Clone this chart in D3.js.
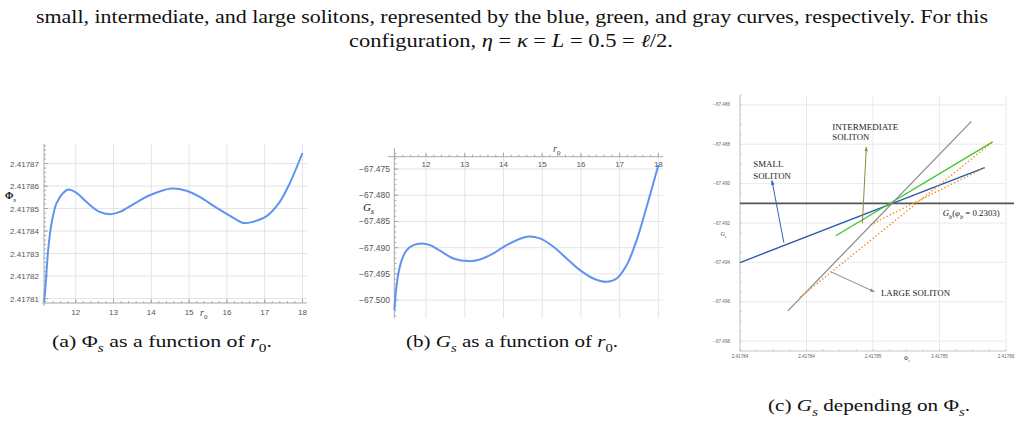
<!DOCTYPE html>
<html><head><meta charset="utf-8">
<script src="https://cdn.jsdelivr.net/npm/d3@7"></script>
<style>body{margin:0;background:#fff}svg{display:block}</style>
</head><body>
<svg id="c" width="1021" height="421"></svg>
<script>
// ---------- DATA ----------
// (a) Phi_s vs r0
const r0A  = [11.16, 11.2, 11.27, 11.36, 11.49, 11.66, 11.8, 12.02, 12.28, 12.63, 12.9, 13.17, 13.52, 13.96, 14.53, 14.93, 15.28, 15.72, 16.16, 16.43, 16.69, 17.05, 17.4, 17.66, 18.0];
const phiA = [2.4178085, 2.4178152, 2.4178316, 2.4178434, 2.4178523, 2.4178568, 2.4178585, 2.417857, 2.417853, 2.4178485, 2.4178475, 2.4178485, 2.4178519, 2.4178559, 2.4178589, 2.4178579, 2.4178552, 2.4178504, 2.417846, 2.4178436, 2.4178441, 2.4178466, 2.417853, 2.4178611, 2.4178747];
// (b) G_s vs r0
const r0B = [11.182, 11.225, 11.286, 11.372, 11.5, 11.673, 11.888, 12.103, 12.36, 12.706, 13.093, 13.395, 13.739, 14.083, 14.6, 14.944, 15.288, 15.633, 15.977, 16.321, 16.666, 16.924, 17.182, 17.44, 17.699, 18.0];
const gB  = [-67.50191, -67.49809, -67.49491, -67.49237, -67.49046, -67.4895, -67.48919, -67.4895, -67.49058, -67.49205, -67.49256, -67.49224, -67.49109, -67.4895, -67.48791, -67.48823, -67.48982, -67.49205, -67.49427, -67.49587, -67.4965, -67.49587, -67.49332, -67.48855, -67.48219, -67.47424];
// tick labels
const ticksR0   = [12, 13, 14, 15, 16, 17, 18];
const ticksPhiA = [2.41781, 2.41782, 2.41783, 2.41784, 2.41785, 2.41786, 2.41787];
const labelsPhiA = ["2.41781", "2.41782", "2.41783", "2.41784", "2.41785", "2.41786", "2.41787"];
const ticksGB   = [-67.5, -67.495, -67.49, -67.485, -67.48, -67.475];
const labelsGB  = ["\u221267.500", "\u221267.495", "\u221267.490", "\u221267.485", "\u221267.480", "\u221267.475"];
// (c) G_s vs Phi_s
const ticksPhiC  = [2.41784, 2.417845, 2.41785, 2.417855, 2.41786];
const labelsPhiC = ["2.41784", "2.41784", "2.41785", "2.41785", "2.41786"];
const ticksGC    = [-67.486, -67.488, -67.49, -67.492, -67.494, -67.496, -67.498];
const labelsGC   = ["\u221267.486", "\u221267.488", "\u221267.490", "\u221267.492", "\u221267.494", "\u221267.496", "\u221267.498"];
const branchNames = ["small", "intermediate", "large"];
const branchPhi0  = [2.41784, 2.4178472, 2.4178436];
const branchG0    = [-67.49401, -67.49265, -67.49646];
const branchPhi1  = [2.4178584, 2.417859, 2.4178574];
const branchG1    = [-67.48919, -67.48788, -67.48684];
const branchColors = ["#2a56ad", "#3cc82c", "#8e8e8e"];
const orangePhi0 = [2.4178445, 2.4178498];
const orangeG0   = [-67.49578, -67.49209];
const orangePhi1 = [2.417859, 2.4178584];
const orangeG1   = [-67.48788, -67.48919];
const Gb = -67.491;
// annotations (data coordinates)
const arrowPhi0 = [2.4178433, 2.4178492, 2.4178468];
const arrowG0   = [-67.4930, -67.49201, -67.49447];
const arrowPhi1 = [2.4178424, 2.4178495, 2.4178501];
const arrowG1   = [-67.48984, -67.48814, -67.49549];
const arrowColors = ["#3560bb", "#8d8c3c", "#8a8a8a"];

// ---------- DRAW ----------
const svg = d3.select("#c");
const serif = "'Liberation Serif','DejaVu Serif',serif";
const sans = "'Liberation Sans','DejaVu Sans',sans-serif";
const gridC = "#e4e4e4", axC = "#a8a8a8", lblC = "#555";

// rich text: parts = [[text, {italic, sub, bold}]...]
function rich(g, x, y, parts, size, opt = {}) {
  const t = g.append("text").attr("x", x).attr("y", y)
    .attr("font-family", serif).attr("font-size", size).attr("fill", opt.fill || "#111");
  if (opt.anchor) t.attr("text-anchor", opt.anchor);
  let shifted = 0;
  parts.forEach(p => {
    const [s, o] = typeof p === "string" ? [p, {}] : p;
    const ts = t.append("tspan").text(s);
    if (o.italic) ts.attr("font-style", "italic");
    if (o.bold) ts.attr("font-weight", "bold");
    const want = o.sub ? size * 0.28 : 0;
    if (want !== shifted) { ts.attr("dy", want - shifted); shifted = want; }
    if (o.sub) ts.attr("font-size", size * 0.7);
  });
  if (opt.len) t.attr("textLength", opt.len).attr("lengthAdjust", "spacingAndGlyphs");
  return t;
}

// ---- captions ----
const cap = svg.append("g");
rich(cap, 36, 23, ["small, intermediate, and large solitons, represented by the blue, green, and gray curves, respectively. For this"], 18, {len: 952});
rich(cap, 349, 47, ["configuration, ", ["\u03b7", {italic: 1}], " = ", ["\u03ba", {italic: 1}], " = ", ["L", {italic: 1}], " = 0.5 = ", ["\u2113", {italic: 1}], "/2."], 18, {len: 324});
rich(cap, 52, 347, ["(a) \u03a6", ["s", {italic: 1, sub: 1}], " as a function of ", ["r", {italic: 1}], ["0", {sub: 1}], "."], 17, {len: 220});
rich(cap, 406, 347, ["(b) ", ["G", {italic: 1}], ["s", {italic: 1, sub: 1}], " as a function of ", ["r", {italic: 1}], ["0", {sub: 1}], "."], 17, {len: 212});
rich(cap, 768, 411, ["(c) ", ["G", {italic: 1}], ["s", {italic: 1, sub: 1}], " depending on \u03a6", ["s", {italic: 1, sub: 1}], "."], 17, {len: 202});

function minorTicks(lo, hi, step) {
  const out = []; const n = Math.round((hi - lo) / step);
  for (let i = 0; i <= n; i++) out.push(lo + i * step);
  return out;
}

// ---- panel (a) ----
{
  const g = svg.append("g");
  const x = d3.scaleLinear([11.16, 18.12], [44, 307]);
  const y = d3.scaleLinear([2.417808, 2.4178787], [303, 144]);
  g.selectAll(".vg").data(ticksR0).join("line").attr("x1", d => x(d)).attr("x2", d => x(d))
    .attr("y1", 144).attr("y2", 303).attr("stroke", gridC);
  g.selectAll(".hg").data(ticksPhiA).join("line").attr("class", "hg").attr("y1", d => y(d)).attr("y2", d => y(d))
    .attr("x1", 44).attr("x2", 307).attr("stroke", gridC);
  g.append("line").attr("x1", 42).attr("x2", 307).attr("y1", 303).attr("y2", 303).attr("stroke", axC);
  g.append("line").attr("x1", 44).attr("x2", 44).attr("y1", 144).attr("y2", 306).attr("stroke", axC);
  g.selectAll(".mx").data(minorTicks(11.2, 18.0, 0.2)).join("line").attr("class", "mx")
    .attr("x1", d => x(d)).attr("x2", d => x(d)).attr("y1", 303).attr("y2", 301).attr("stroke", axC);
  g.selectAll(".Mx").data(ticksR0).join("line").attr("class", "Mx")
    .attr("x1", d => x(d)).attr("x2", d => x(d)).attr("y1", 303).attr("y2", 299).attr("stroke", axC);
  g.selectAll(".my").data(minorTicks(2.41781, 2.417878, 0.000002)).join("line").attr("class", "my")
    .attr("y1", d => y(d)).attr("y2", d => y(d)).attr("x1", 44).attr("x2", 46).attr("stroke", axC);
  g.selectAll(".My").data(ticksPhiA).join("line").attr("class", "My")
    .attr("y1", d => y(d)).attr("y2", d => y(d)).attr("x1", 44).attr("x2", 48).attr("stroke", axC);
  g.selectAll(".xl").data(ticksR0).join("text").attr("class", "xl").attr("x", d => x(d)).attr("y", 315)
    .attr("text-anchor", "middle").attr("font-family", sans).attr("font-size", 8).attr("fill", lblC).text(d => d);
  g.selectAll(".yl").data(ticksPhiA).join("text").attr("class", "yl").attr("x", 39).attr("y", d => y(d) + 3)
    .attr("text-anchor", "end").attr("font-family", sans).attr("font-size", 8).attr("fill", lblC).text((d, i) => labelsPhiA[i]);
  rich(g, 5, 199, [["\u03a6", {bold: 1}], ["s", {italic: 1, sub: 1}]], 10);
  rich(g, 200, 316, [["r", {italic: 1}], ["0", {sub: 1}]], 10, {fill: "#444"});
  const line = d3.line().x((d, i) => x(r0A[i])).y(d => y(d)).curve(d3.curveCatmullRom.alpha(0.5));
  g.append("path").attr("d", line(phiA)).attr("fill", "none").attr("stroke", "#5e94f0").attr("stroke-width", 2);
}

// ---- panel (b) ----
{
  const g = svg.append("g");
  const x = d3.scaleLinear([11.18, 18.12], [394.3, 663]);
  const y = d3.scaleLinear([-67.5034, -67.471], [318, 148]);
  const axY = 156.7;
  g.selectAll(".vg").data(ticksR0).join("line").attr("class", "vg").attr("x1", d => x(d)).attr("x2", d => x(d))
    .attr("y1", axY).attr("y2", 318).attr("stroke", gridC);
  g.selectAll(".hg").data(ticksGB).join("line").attr("class", "hg").attr("y1", d => y(d)).attr("y2", d => y(d))
    .attr("x1", 394.3).attr("x2", 663).attr("stroke", gridC);
  g.append("line").attr("x1", 388).attr("x2", 663).attr("y1", axY).attr("y2", axY).attr("stroke", axC);
  g.append("line").attr("x1", 394.3).attr("x2", 394.3).attr("y1", 148).attr("y2", 318).attr("stroke", axC);
  g.selectAll(".mx").data(minorTicks(11.2, 18.0, 0.2)).join("line").attr("class", "mx")
    .attr("x1", d => x(d)).attr("x2", d => x(d)).attr("y1", axY).attr("y2", axY - 2).attr("stroke", axC);
  g.selectAll(".Mx").data(ticksR0).join("line").attr("class", "Mx")
    .attr("x1", d => x(d)).attr("x2", d => x(d)).attr("y1", axY).attr("y2", axY - 4).attr("stroke", axC);
  g.selectAll(".my").data(minorTicks(-67.503, -67.472, 0.001)).join("line").attr("class", "my")
    .attr("y1", d => y(d)).attr("y2", d => y(d)).attr("x1", 394.3).attr("x2", 396.3).attr("stroke", axC);
  g.selectAll(".My").data(ticksGB).join("line").attr("class", "My")
    .attr("y1", d => y(d)).attr("y2", d => y(d)).attr("x1", 394.3).attr("x2", 398.3).attr("stroke", axC);
  g.selectAll(".xl").data(ticksR0).join("text").attr("class", "xl").attr("x", d => x(d)).attr("y", 167)
    .attr("text-anchor", "middle").attr("font-family", sans).attr("font-size", 8).attr("fill", lblC).text(d => d);
  g.selectAll(".yl").data(ticksGB).join("text").attr("class", "yl").attr("x", 390).attr("y", d => y(d) + 3)
    .attr("text-anchor", "end").attr("font-family", sans).attr("font-size", 8.5).attr("fill", lblC).text((d, i) => labelsGB[i]);
  rich(g, 363, 211, [["G", {italic: 1}], ["s", {italic: 1, sub: 1}]], 11);
  rich(g, 553, 152, [["r", {italic: 1}], ["0", {sub: 1}]], 10, {fill: "#444"});
  const line = d3.line().x((d, i) => x(r0B[i])).y(d => y(d)).curve(d3.curveCatmullRom.alpha(0.5));
  g.append("path").attr("d", line(gB)).attr("fill", "none").attr("stroke", "#5e94f0").attr("stroke-width", 2);
}

// ---- panel (c) ----
{
  const g = svg.append("g");
  const x = d3.scaleLinear([2.41784, 2.41786], [740, 1006]);
  const y = d3.scaleLinear([-67.4985, -67.4855], [351, 95]);
  g.selectAll(".vg").data(ticksPhiC).join("line").attr("class", "vg").attr("x1", d => x(d)).attr("x2", d => x(d))
    .attr("y1", 95).attr("y2", 351).attr("stroke", gridC).attr("stroke-width", 0.8);
  g.selectAll(".hg").data(ticksGC).join("line").attr("class", "hg").attr("y1", d => y(d)).attr("y2", d => y(d))
    .attr("x1", 740).attr("x2", 1006).attr("stroke", gridC).attr("stroke-width", 0.8);
  g.append("line").attr("x1", 740).attr("x2", 1006).attr("y1", 351).attr("y2", 351).attr("stroke", "#c8c8c8");
  g.append("line").attr("x1", 740).attr("x2", 740).attr("y1", 95).attr("y2", 351).attr("stroke", "#c8c8c8");
  g.selectAll(".mx").data(minorTicks(2.41784, 2.41786, 0.00000125)).join("line").attr("class", "mx")
    .attr("x1", d => x(d)).attr("x2", d => x(d)).attr("y1", 351).attr("y2", 349).attr("stroke", "#bbb").attr("stroke-width", 0.6);
  g.selectAll(".my").data(minorTicks(-67.4985, -67.4855, 0.0005)).join("line").attr("class", "my")
    .attr("y1", d => y(d)).attr("y2", d => y(d)).attr("x1", 740).attr("x2", 742).attr("stroke", "#bbb").attr("stroke-width", 0.6);
  g.selectAll(".xl").data(ticksPhiC).join("text").attr("class", "xl").attr("x", d => x(d)).attr("y", 357.5)
    .attr("text-anchor", "middle").attr("font-family", sans).attr("font-size", 4.6).attr("fill", "#666").text((d, i) => labelsPhiC[i]);
  g.selectAll(".yl").data(ticksGC).join("text").attr("class", "yl").attr("x", 730).attr("y", d => y(d) + 1.6)
    .attr("text-anchor", "end").attr("font-family", sans).attr("font-size", 4.6).attr("fill", "#666").text((d, i) => labelsGC[i]);
  rich(g, 720.5, 236, [["G", {italic: 1}], ["s", {italic: 1, sub: 1}]], 6, {fill: "#333"});
  rich(g, 904, 360, [["\u03a6", {}], ["s", {italic: 1, sub: 1}]], 5.5, {fill: "#333"});

  g.append("line").attr("x1", 740).attr("x2", 1014).attr("y1", y(Gb)).attr("y2", y(Gb)).attr("stroke", "#555").attr("stroke-width", 1.8);
  g.selectAll(".br").data(branchNames).join("line").attr("class", "br")
    .attr("x1", (d, i) => x(branchPhi0[i])).attr("y1", (d, i) => y(branchG0[i]))
    .attr("x2", (d, i) => x(branchPhi1[i])).attr("y2", (d, i) => y(branchG1[i]))
    .attr("stroke", (d, i) => branchColors[i]).attr("stroke-width", 1.3);
  g.selectAll(".or").data(orangePhi0).join("line").attr("class", "or")
    .attr("x1", (d, i) => x(orangePhi0[i])).attr("y1", (d, i) => y(orangeG0[i]))
    .attr("x2", (d, i) => x(orangePhi1[i])).attr("y2", (d, i) => y(orangeG1[i]))
    .attr("stroke", "#f28a1e").attr("stroke-width", 1.4).attr("stroke-dasharray", "1.4,2.2");
  const defs = svg.append("defs");
  arrowColors.forEach((c, i) => {
    defs.append("marker").attr("id", "ah" + i).attr("viewBox", "0 0 10 10").attr("refX", 9).attr("refY", 5)
      .attr("markerWidth", 5).attr("markerHeight", 5).attr("orient", "auto-start-reverse")
      .append("path").attr("d", "M0,1.5 L10,5 L0,8.5 Z").attr("fill", c);
  });
  g.selectAll(".ar").data(arrowColors).join("line").attr("class", "ar")
    .attr("x1", (d, i) => x(arrowPhi0[i])).attr("y1", (d, i) => y(arrowG0[i]))
    .attr("x2", (d, i) => x(arrowPhi1[i])).attr("y2", (d, i) => y(arrowG1[i]))
    .attr("stroke", d => d).attr("stroke-width", 1).attr("marker-end", (d, i) => `url(#ah${i})`);
  const lab = (s, px, py, len) => g.append("text").attr("x", px).attr("y", py).attr("font-family", serif)
    .attr("font-size", 9).attr("fill", "#222").attr("textLength", len).attr("lengthAdjust", "spacingAndGlyphs").text(s);
  lab("SMALL", 753.3, 167, 30);
  lab("SOLITON", 753.3, 178.5, 37.7);
  lab("INTERMEDIATE", 832.3, 130, 66);
  lab("SOLITON", 832.3, 140, 37);
  lab("LARGE SOLITON", 881, 296, 69);
  rich(g, 942.7, 216, [["G", {italic: 1}], ["b", {italic: 1, sub: 1}], "(", ["\u03c6", {italic: 1}], ["b", {italic: 1, sub: 1}], " = 0.2303)"], 9, {fill: "#222", len: 57});
}
</script>
</body></html>
